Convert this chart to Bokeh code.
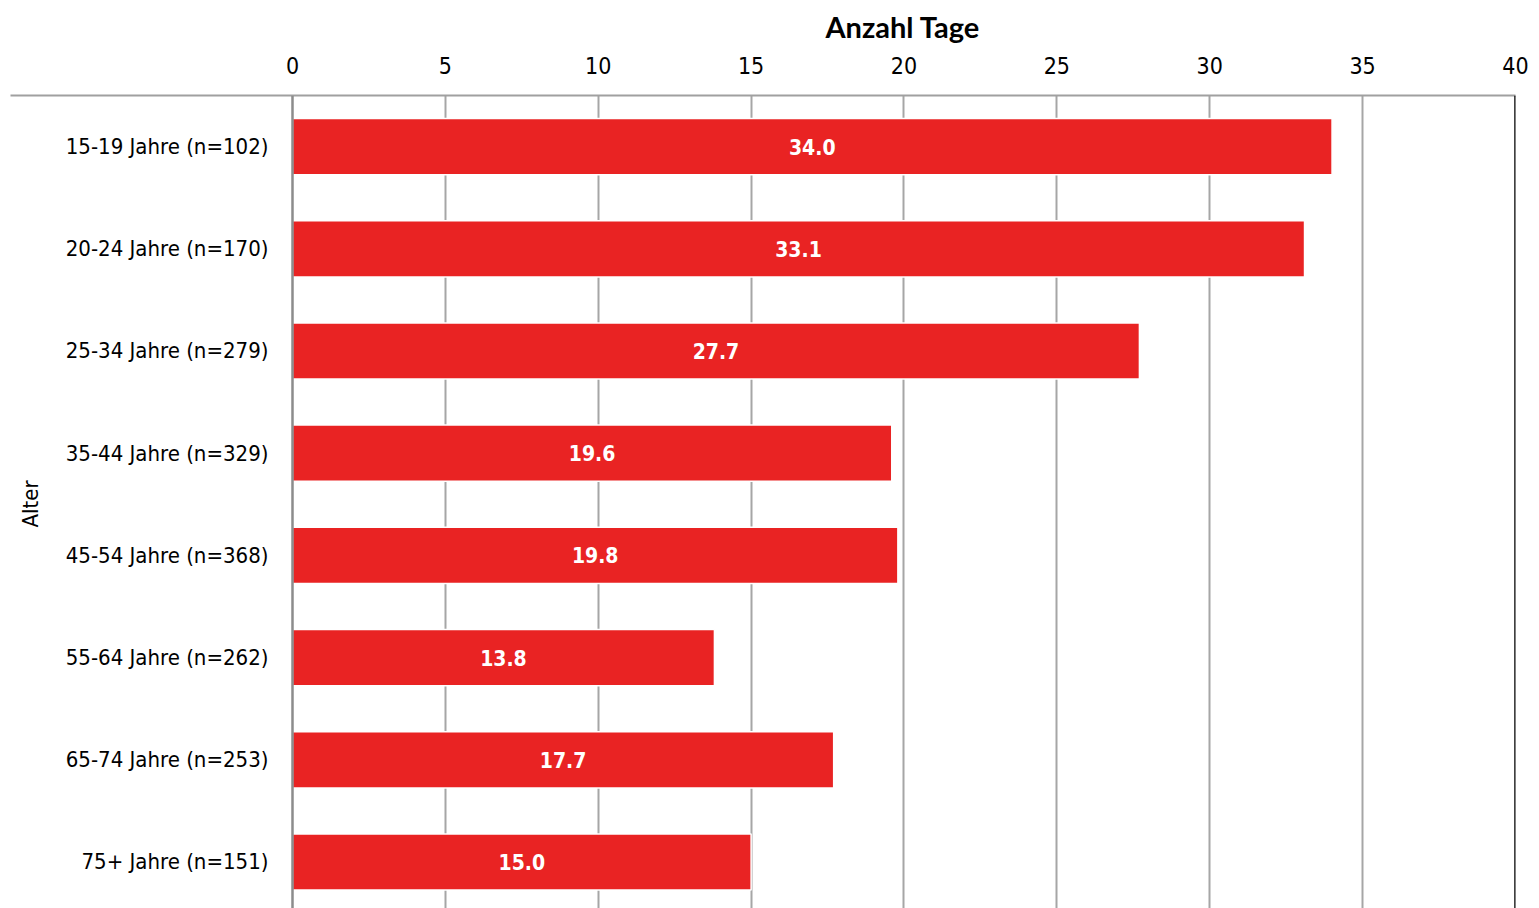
import math
from bokeh.plotting import figure
from bokeh.models import Range1d, FixedTicker, Span, ColumnDataSource
from bokeh.core.properties import value
from bokeh.embed import file_html
from bokeh.resources import INLINE

categories = ["15-19 Jahre (n=102)", "20-24 Jahre (n=170)", "25-34 Jahre (n=279)",
              "35-44 Jahre (n=329)", "45-54 Jahre (n=368)", "55-64 Jahre (n=262)",
              "65-74 Jahre (n=253)", "75+ Jahre (n=151)"]
values = [34.0, 33.1, 27.7, 19.6, 19.8, 13.8, 17.7, 15.0]
x_ticks = [0, 5, 10, 15, 20, 25, 30, 35, 40]
x_title = "Anzahl Tage"
y_title = "Alter"

FONT = "DejaVu Sans Condensed"
RED = "#E92323"

pos = list(range(len(categories)))
src = ColumnDataSource(dict(
    y=pos, v=values, cat=categories,
    mid=[v / 2 for v in values],
    lab=[f"{v:.1f}" for v in values],
))

p = figure(width=1539, height=908, output_backend="svg", toolbar_location=None,
           x_range=Range1d(-9.223, 40), y_range=Range1d(7.455, -0.5),
           x_axis_location="above", min_border_left=10, min_border_right=24,
           min_border_top=0, min_border_bottom=0,
           title=x_title)
p.outline_line_color = None
p.yaxis.visible = False
p.ygrid.visible = False

p.title.align = "left"
p.title.vertical_align = "top"
p.title.offset = 815
p.title.text_font = "Lato"
p.title.text_font_style = "bold"
p.title.text_font_size = "29px"
p.title.text_color = "black"
p.title.text_line_height = 0.7
p.title.standoff = 16

ax = p.xaxis[0]
ax.ticker = FixedTicker(ticks=x_ticks)
ax.major_tick_out = 0
ax.major_tick_in = 0
ax.minor_tick_out = 0
ax.minor_tick_in = 0
ax.axis_line_color = "#A0A0A0"
ax.axis_line_width = 2
ax.major_label_text_font = FONT
ax.major_label_text_font_size = "23px"
ax.major_label_text_color = "#000000"
ax.major_label_standoff = 22

p.xgrid.ticker = FixedTicker(ticks=[5, 10, 15, 20, 25, 30, 35])
p.xgrid.grid_line_color = "#A6A6A6"
p.xgrid.grid_line_width = 2

p.add_layout(Span(location=0, dimension="height", line_color="#8C8C8C", line_width=2.5))
p.add_layout(Span(location=40, dimension="height", line_color="#000000", line_width=2.5))

p.hbar(y="y", right="v", left=0, height=0.55, source=src, fill_color=RED,
       line_color="white", line_width=1.5)

p.text(x="mid", y="y", text="lab", source=src, text_color="white",
       text_font=value(FONT), text_font_style="bold", text_font_size="21px",
       text_align="center", text_baseline="middle")

p.text(x=-0.785, y="y", text="cat", source=src, text_color="black",
       text_font=value(FONT), text_font_size="22px",
       text_align="right", text_baseline="middle")

p.text(x=[-8.57], y=[3.497], text=[y_title], angle=math.pi / 2, text_color="black",
       text_font=value(FONT), text_font_size="22px",
       text_align="center", text_baseline="middle")

open("out.html", "w").write(file_html(p, INLINE))
